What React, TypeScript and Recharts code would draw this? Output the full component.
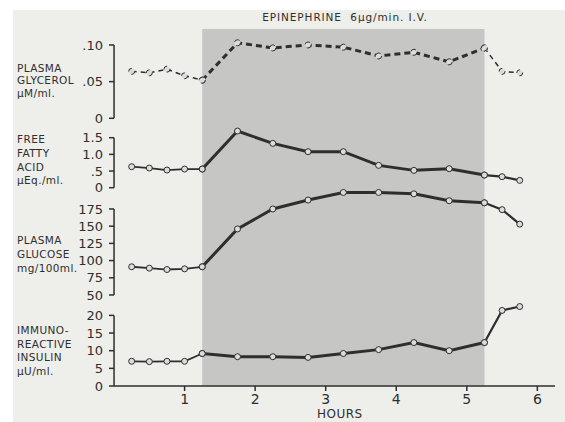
import React from "react";
import {
  LineChart,
  Line,
  XAxis,
  YAxis,
  ReferenceArea,
  ReferenceLine,
} from "recharts";

// sampling times (hours) and readings
const HOURS = [0.25, 0.5, 0.75, 1, 1.25, 1.75, 2.25, 2.75, 3.25, 3.75, 4.25, 4.75, 5.25, 5.5, 5.75];
const GLYCEROL = [0.064, 0.062, 0.067, 0.058, 0.052, 0.103, 0.096, 0.1, 0.097, 0.085, 0.09, 0.077, 0.096, 0.064, 0.062];
const FFA = [0.63, 0.59, 0.53, 0.56, 0.56, 1.7, 1.33, 1.08, 1.08, 0.67, 0.52, 0.57, 0.38, 0.33, 0.22];
const GLUCOSE = [91, 89, 87, 88, 91, 146, 175, 188, 199, 199, 197, 187, 184, 174, 153];
const INSULIN = [7.0, 6.9, 7.0, 7.0, 9.2, 8.3, 8.3, 8.1, 9.2, 10.3, 12.3, 10.0, 12.3, 21.4, 22.5];

const INFUSION: [number, number] = [1.25, 5.25];
const X_TICKS = [1, 2, 3, 4, 5, 6];
const GLY_TICKS = [0, 0.05, 0.1];
const FFA_TICKS = [0, 0.5, 1, 1.5];
const GLU_TICKS = [50, 75, 100, 125, 150, 175];
const INS_TICKS = [0, 5, 10, 15, 20];

const TITLE = "EPINEPHRINE  6\u03bcg/min. I.V.";
const X_LABEL = "HOURS";
const GLY_LABEL = ["PLASMA", "GLYCEROL", "\u03bcM/ml."];
const FFA_LABEL = ["FREE", "FATTY", "ACID", "\u03bcEq./ml."];
const GLU_LABEL = ["PLASMA", "GLUCOSE", "mg/100ml."];
const INS_LABEL = ["IMMUNO-", "REACTIVE", "INSULIN", "\u03bcU/ml."];

const INK = "#2e2e2e";
const PAPER = "#eeeeeb";
const SHADE = "#c6c6c4";
const FONT = "'DejaVu Sans', sans-serif";
const TICK_SIZE = 5;
const TICK_GAP = 6;

// every panel shares one plot box; each y axis domain places its panel in its band
const PANELS = [
  { id: "gly", values: GLYCEROL, ticks: GLY_TICKS, domain: [-0.3652, 0.1218], dashed: true },
  { id: "ffa", values: FFA, ticks: FFA_TICKS, domain: [-5.949, 4.761], dashed: false },
  { id: "glu", values: GLUCOSE, ticks: GLU_TICKS, domain: [-82.3, 436.6], dashed: false },
  { id: "ins", values: INSULIN, ticks: INS_TICKS, domain: [0, 101.1], dashed: false },
];

const rows = HOURS.map((h, i) => {
  const row: Record<string, number | null> = { h };
  for (const p of PANELS) {
    const v = p.values[i];
    row[`${p.id}Pre`] = h <= INFUSION[0] ? v : null;
    row[`${p.id}Inf`] = h >= INFUSION[0] && h <= INFUSION[1] ? v : null;
    row[`${p.id}Post`] = h >= INFUSION[1] ? v : null;
  }
  return row;
});

function fmtTick(id: string, v: number): string {
  if (v === 0) return "0";
  if (id === "gly") return v.toFixed(2).replace(/^0/, "");
  if (id === "ffa") return v < 1 ? ".5" : v.toFixed(1);
  return String(v);
}

// y tick: small stub pointing left from the bracket, label to its left
function makeTick(id: string) {
  return (props: any) => {
    const { x, y, payload } = props;
    const ax = x + TICK_GAP + TICK_SIZE;
    return (
      <g>
        <line x1={ax - TICK_SIZE} x2={ax} y1={y} y2={y} stroke={INK} strokeWidth={1.5} />
        <text x={x} y={y} dy="0.36em" textAnchor="end" fill={INK} fontSize={13} fontFamily={FONT}>
          {fmtTick(id, payload.value)}
        </text>
      </g>
    );
  };
}

const dot = { r: 3, fill: "#dcdcda", stroke: INK, strokeWidth: 1 };

function panelLines(p: (typeof PANELS)[number]) {
  const phases = [
    { key: "Pre", width: p.dashed ? 1.5 : 1.8, dash: p.dashed ? "5 4" : undefined },
    { key: "Inf", width: 3, dash: p.dashed ? "6 4" : undefined },
    { key: "Post", width: p.dashed ? 1.5 : 2.2, dash: p.dashed ? "5 4" : undefined },
  ];
  return phases.map((ph) => (
    <Line
      key={p.id + ph.key}
      yAxisId={p.id}
      dataKey={p.id + ph.key}
      type="linear"
      stroke={INK}
      strokeWidth={ph.width}
      strokeDasharray={ph.dash}
      dot={dot}
      activeDot={false}
      isAnimationActive={false}
    />
  ));
}

function SideLabel({ lines, top, lh }: { lines: string[]; top: number; lh: number }) {
  return (
    <div
      style={{
        position: "absolute",
        left: 17,
        top,
        fontFamily: FONT,
        fontSize: 10.5,
        lineHeight: `${lh}px`,
        color: INK,
        letterSpacing: 0.4,
      }}
    >
      {lines.map((l) => (
        <div key={l}>{l}</div>
      ))}
    </div>
  );
}

export default function App() {
  return (
    <div style={{ position: "absolute", left: 0, top: 0, width: 565, height: 422, background: "#fff", overflow: "hidden" }}>
      <div style={{ position: "absolute", left: 13, top: 10, right: 0, bottom: 0, background: PAPER }} />
      <div
        style={{
          position: "absolute",
          left: 253,
          top: 11,
          width: 184,
          textAlign: "center",
          fontFamily: FONT,
          fontSize: 10.5,
          letterSpacing: 0.9,
          color: INK,
          whiteSpace: "pre",
        }}
      >
        {TITLE}
      </div>
      <SideLabel lines={GLY_LABEL} top={61.5} lh={12.5} />
      <SideLabel lines={FFA_LABEL} top={133} lh={13.8} />
      <SideLabel lines={GLU_LABEL} top={234} lh={13.8} />
      <SideLabel lines={INS_LABEL} top={324} lh={13.6} />
      <div
        style={{
          position: "absolute",
          left: 317,
          top: 408,
          fontFamily: FONT,
          fontSize: 12,
          lineHeight: "13px",
          letterSpacing: 0.5,
          color: INK,
        }}
      >
        {X_LABEL}
      </div>
      <div style={{ position: "absolute", left: 0, top: 0 }}>
        <LineChart width={565} height={422} data={rows} margin={{ top: 29, right: 10, left: 114, bottom: 0 }}>
          <XAxis
            dataKey="h"
            type="number"
            domain={[0, 6.25]}
            ticks={X_TICKS}
            height={36}
            tickSize={5}
            tickMargin={3}
            axisLine={{ stroke: INK, strokeWidth: 1.5 }}
            tickLine={{ stroke: INK, strokeWidth: 1.5 }}
            tick={{ fill: INK, fontSize: 14, fontFamily: FONT }}
          />
          {PANELS.map((p) => (
            <YAxis
              key={p.id}
              yAxisId={p.id}
              type="number"
              width={0.01}
              domain={p.domain}
              ticks={p.ticks}
              interval={0}
              allowDataOverflow
              axisLine={false}
              tickLine={false}
              tickSize={TICK_SIZE}
              tickMargin={TICK_GAP}
              tick={makeTick(p.id)}
            />
          ))}
          <ReferenceArea
            yAxisId="ins"
            x1={INFUSION[0]}
            x2={INFUSION[1]}
            fill={SHADE}
            fillOpacity={1}
            stroke="none"
          />
          {PANELS.map((p) => (
            <ReferenceLine
              key={"br" + p.id}
              yAxisId={p.id}
              segment={[
                { x: 0, y: p.ticks[0] },
                { x: 0, y: p.ticks[p.ticks.length - 1] },
              ]}
              stroke={INK}
              strokeWidth={1.5}
              ifOverflow="visible"
            />
          ))}
          {PANELS.map((p) => panelLines(p))}
        </LineChart>
      </div>
    </div>
  );
}
